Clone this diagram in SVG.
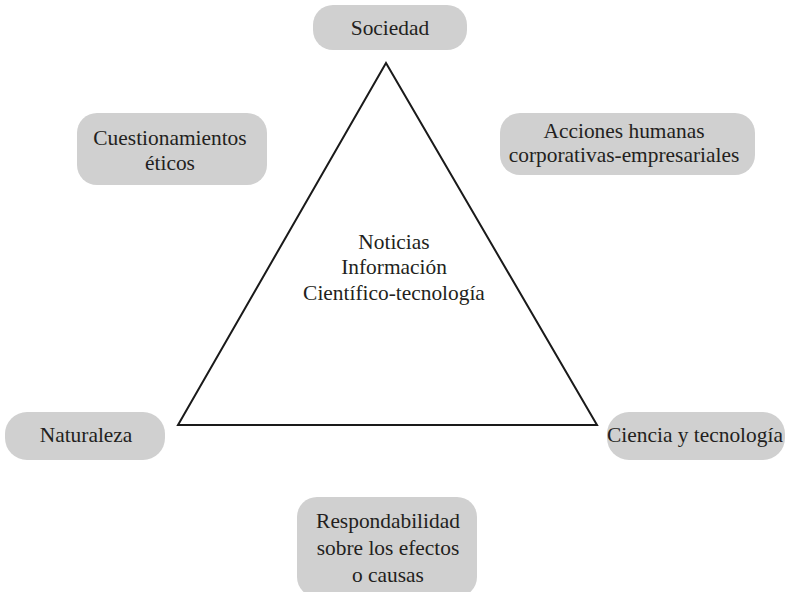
<svg xmlns="http://www.w3.org/2000/svg" width="787" height="592" viewBox="0 0 787 592">
<style>
.box{fill:#d0d0d0;stroke:none}
.t{font-family:"Liberation Serif","Times New Roman",serif;font-size:21.4px;fill:#231f20;text-anchor:middle}
.edge{fill:none;stroke:#1a1a1a;stroke-width:2;stroke-linejoin:miter}
</style>
<rect width="787" height="592" fill="#ffffff"/>
<g id="connectors">
<polygon class="edge" points="386,63 178,425 597,425"/>
</g>
<g id="center">
<text class="t" x="394" y="249">Noticias</text>
<text class="t" x="394" y="274">Información</text>
<text class="t" x="394" y="300">Científico-tecnología</text>
</g>
<g id="sociedad">
<rect class="box" x="313" y="5" width="154" height="45" rx="20"/>
<text class="t" x="390" y="35">Sociedad</text>
</g>
<g id="cuestionamientos">
<rect class="box" x="77" y="113" width="190" height="72" rx="20"/>
<text class="t" x="170" y="145">Cuestionamientos</text>
<text class="t" x="170" y="170">éticos</text>
</g>
<g id="acciones">
<rect class="box" x="500" y="113" width="255" height="62" rx="20"/>
<text class="t" x="624" y="138">Acciones humanas</text>
<text class="t" x="624" y="162">corporativas-empresariales</text>
</g>
<g id="naturaleza">
<rect class="box" x="5" y="412" width="160" height="48" rx="22"/>
<text class="t" x="86" y="442">Naturaleza</text>
</g>
<g id="ciencia">
<rect class="box" x="607" y="412" width="178" height="48" rx="22"/>
<text class="t" x="695" y="442">Ciencia y tecnología</text>
</g>
<g id="responsabilidad">
<rect class="box" x="297" y="497" width="180" height="100" rx="20"/>
<text class="t" x="388" y="528">Respondabilidad</text>
<text class="t" x="388" y="555">sobre los efectos</text>
<text class="t" x="388" y="582">o causas</text>
</g>
</svg>
